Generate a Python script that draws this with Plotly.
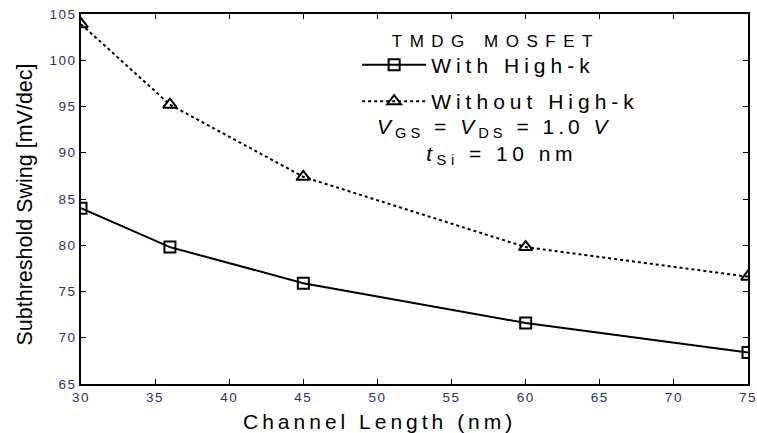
import plotly.graph_objects as go

# Channel length sweep (nm)
channel_length = [30, 36, 45, 60, 75]

# Subthreshold swing (mV/dec)
ss_with_highk = [84.0, 79.8, 75.9, 71.6, 68.4]
ss_without_highk = [103.9, 95.2, 87.4, 79.8, 76.6]

x_ticks = [30, 35, 40, 45, 50, 55, 60, 65, 70, 75]
y_ticks = [65, 70, 75, 80, 85, 90, 95, 100, 105]

FONT = "Liberation Sans"
TICK_COLOR = "#2e2e6e"

fig = go.Figure()

fig.add_trace(go.Scatter(
    x=channel_length, y=ss_with_highk, name="With High-k",
    mode="lines+markers", legendgroup="a",
    line=dict(color="black", width=2, dash="solid"),
    marker=dict(symbol="square-open", size=11, color="black", line=dict(width=2)),
))
fig.add_trace(go.Scatter(
    x=channel_length, y=ss_without_highk, name="Without High-k",
    mode="lines+markers", legendgroup="b",
    line=dict(color="black", width=2, dash="dot"),
    marker=dict(symbol="triangle-up-open", size=12, color="black", line=dict(width=2)),
))

axis_common = dict(
    showline=True, linecolor="black", linewidth=1.5, mirror="ticks",
    ticks="inside", ticklen=5, tickwidth=1, tickcolor="black",
    showgrid=False, zeroline=False, automargin=False,
    tickfont=dict(family=FONT, size=13.5, color=TICK_COLOR),
)

fig.update_xaxes(range=[30, 75], tickvals=x_ticks, **axis_common)
fig.update_yaxes(range=[65, 105], tickvals=y_ticks, **axis_common)

fig.update_layout(
    width=757, height=433,
    margin=dict(l=81, r=9, t=14, b=49),
    paper_bgcolor="white", plot_bgcolor="white",
    showlegend=True,
    legend=dict(
        x=0.414, y=0.917, xanchor="left", yanchor="top",
        bgcolor="rgba(0,0,0,0)", borderwidth=0,
        font=dict(family=FONT, size=21, color="black"),
        traceorder="grouped", tracegroupgap=6, itemwidth=64,
    ),
    annotations=[
        dict(text="TMDG MOSFET",
             xref="paper", yref="paper", x=0.622, y=0.927,
             showarrow=False, xanchor="center", yanchor="middle",
             font=dict(family=FONT, size=17, color="black")),
        dict(text="<i>V</i><sub>GS</sub> = <i>V</i><sub>DS</sub> = 1.0 <i>V</i>",
             xref="paper", yref="paper", x=0.622, y=0.693,
             showarrow=False, xanchor="center", yanchor="middle",
             font=dict(family=FONT, size=21, color="black")),
        dict(text="<i>t</i><sub>Si</sub> = 10 nm",
             xref="paper", yref="paper", x=0.63, y=0.618,
             showarrow=False, xanchor="center", yanchor="middle",
             font=dict(family=FONT, size=21, color="black")),
        dict(text="Channel Length (nm)",
             xref="paper", yref="paper", x=0.448, y=-0.1,
             showarrow=False, xanchor="center", yanchor="middle",
             font=dict(family=FONT, size=21, color="black")),
        dict(text="Subthreshold Swing [mV/dec]",
             xref="paper", yref="paper", x=-0.084, y=0.485,
             showarrow=False, xanchor="center", yanchor="middle", textangle=-90,
             font=dict(family=FONT, size=21.5, color="black")),
    ],
)

# Widen horizontal lettering
spread_js = """
var gd = document.getElementById('{plot_id}');
gd.querySelectorAll('.legend .scrollbox').forEach(function(e){ e.removeAttribute('clip-path'); });
gd.querySelectorAll('.legendtext').forEach(function(t){ t.style.letterSpacing = '5px'; });
gd.querySelectorAll('.xtick text, .ytick text').forEach(function(t){ t.style.letterSpacing = '1.5px'; });
gd.querySelectorAll('.annotation-text').forEach(function(t){
  var s = t.textContent;
  if (s.indexOf('TMDG') >= 0) { t.style.letterSpacing = '7.5px'; }
  else if (s.indexOf('Channel') >= 0) { t.style.letterSpacing = '4px'; }
  else if (s.indexOf('DS') >= 0) { t.style.letterSpacing = '4px'; }
  else if (s.indexOf('Si') >= 0) { t.style.letterSpacing = '4.5px'; }
});
"""

fig.write_html("out.html", post_script=spread_js)
